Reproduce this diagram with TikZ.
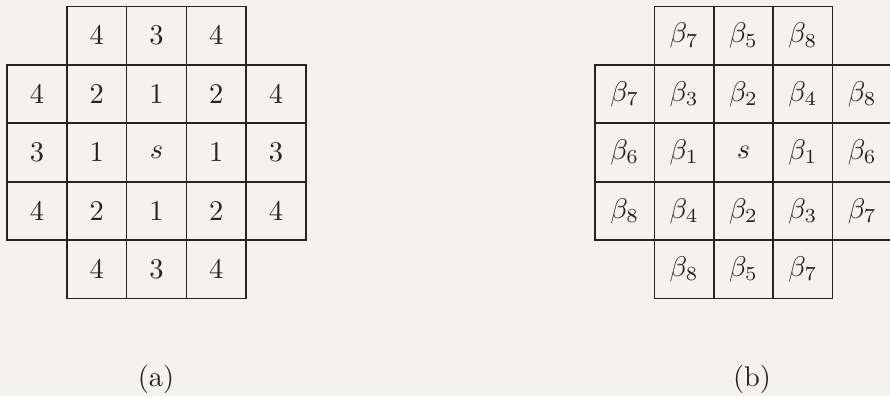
\documentclass[tikz,border=0pt]{standalone}
\usepackage{graphicx}
\definecolor{bg}{RGB}{243,242,238}
\definecolor{ink}{RGB}{40,35,35}
\newcommand{\bigtxt}[1]{\scalebox{2.85}{#1}}
\begin{document}
\begin{tikzpicture}[x=1pt,y=1pt,
  cellA/.style={draw=ink, line width=1.7pt, minimum width=59.8pt, minimum height=58.4pt, inner sep=0pt, text=ink},
  cellB/.style={cellA, minimum width=59.4pt},
  captext/.style={text=ink, inner sep=0pt}]
\fill[bg] (0,0) rectangle (890,396);
\useasboundingbox (0,0) rectangle (890,396);
% grid (a)
\foreach \r/\c/\t in {1/2/4,1/3/3,1/4/4,
                      2/1/4,2/2/2,2/3/1,2/4/2,2/5/4,
                      3/1/3,3/2/1,3/3/s,3/4/1,3/5/3,
                      4/1/4,4/2/2,4/3/1,4/4/2,4/5/4,
                      5/2/4,5/3/3,5/4/4}
  \node[cellA] (a\r\c) at ({156.5+59.8*(\c-3)},{243.5-58.4*(\r-3)}) {\bigtxt{$\t$}};
% grid (b)
\foreach \r/\c/\t in {1/2/{\beta_7},1/3/{\beta_5},1/4/{\beta_8},
                      2/1/{\beta_7},2/2/{\beta_3},2/3/{\beta_2},2/4/{\beta_4},2/5/{\beta_8},
                      3/1/{\beta_6},3/2/{\beta_1},3/3/{s},3/4/{\beta_1},3/5/{\beta_6},
                      4/1/{\beta_8},4/2/{\beta_4},4/3/{\beta_2},4/4/{\beta_3},4/5/{\beta_7},
                      5/2/{\beta_8},5/3/{\beta_5},5/4/{\beta_7}}
  \node[cellB] (b\r\c) at ({743.5+59.4*(\c-3)},{243.5-58.4*(\r-3)}) {\bigtxt{$\t$}};
\node[captext] (capa) at (156,17) {\bigtxt{(a)}};
\node[captext] (capb) at (752,17) {\bigtxt{(b)}};
\end{tikzpicture}
\end{document}
